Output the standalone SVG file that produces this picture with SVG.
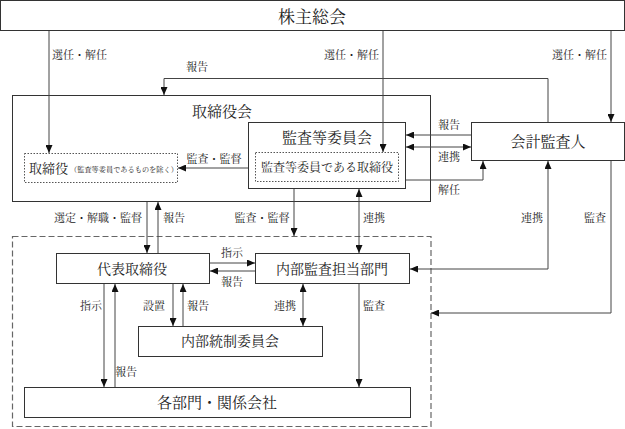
<svg xmlns="http://www.w3.org/2000/svg" width="625" height="429" viewBox="0 0 625 429">
<style>
text{font-family:"Noto Serif CJK JP","Noto Sans CJK JP",serif;fill:#222;}
.box{fill:#fff;stroke:#333;stroke-width:1;}
.dot{fill:none;stroke:#555;stroke-width:1;stroke-dasharray:1.5 1.5;}
.dash{fill:none;stroke:#666;stroke-width:1.2;stroke-dasharray:6 3;}
.c{fill:none;stroke:#444;stroke-width:1;}
.a{marker-end:url(#ah);}
.d{marker-start:url(#ah);marker-end:url(#ah);}
.lb{font-size:11px;}
.m{text-anchor:middle;}
</style>
<defs>
<marker id="ah" viewBox="0 0 8 7" refX="8" refY="3.5" markerWidth="8" markerHeight="7" markerUnits="userSpaceOnUse" orient="auto-start-reverse">
<path d="M0,0 L8,3.5 L0,7 z" fill="#111"/>
</marker>
</defs>

<g id="dashed-area"><rect class="dash" x="12.5" y="236.5" width="418.5" height="190"/></g>

<g id="shareholders">
<rect class="box" x="0.5" y="0.5" width="624" height="30"/>
<text x="312" y="23" class="m" font-size="17">株主総会</text>
</g>

<g id="board">
<rect class="box" x="12.5" y="95.5" width="418" height="106"/>
<text x="222" y="117" class="m" font-size="15">取締役会</text>
</g>

<g id="directors">
<rect class="dot" x="24.5" y="153.5" width="153" height="29"/>
<text x="29" y="173" font-size="13">取締役<tspan font-size="7.2" dx="2" dy="-1">（監査等委員であるものを除く）</tspan></text>
</g>

<g id="audit-committee">
<rect class="box" x="248.5" y="122.5" width="157" height="66"/>
<text x="327" y="143" class="m" font-size="15">監査等委員会</text>
</g>

<g id="audit-directors">
<rect class="dot" x="255.5" y="152.5" width="143" height="29"/>
<text x="327" y="172" class="m" font-size="12">監査等委員である取締役</text>
</g>

<g id="accounting-auditor">
<rect class="box" x="471.5" y="122.5" width="153" height="38"/>
<text x="548" y="147" class="m" font-size="15">会計監査人</text>
</g>

<g id="representative">
<rect class="box" x="56.5" y="253.5" width="153" height="30"/>
<text x="132" y="274" class="m" font-size="14">代表取締役</text>
</g>

<g id="internal-audit">
<rect class="box" x="255.5" y="253.5" width="154" height="30"/>
<text x="332" y="274" class="m" font-size="14">内部監査担当部門</text>
</g>

<g id="internal-control">
<rect class="box" x="138.5" y="326.5" width="184" height="30"/>
<text x="230" y="346" class="m" font-size="14">内部統制委員会</text>
</g>

<g id="departments">
<rect class="box" x="24.5" y="387.5" width="386" height="30"/>
<text x="217" y="408" class="m" font-size="15">各部門・関係会社</text>
</g>

<g id="connectors">
<path class="c a" d="M49,31 V153"/>
<path class="c a" d="M383,31 V152"/>
<path class="c a" d="M611,31 V122"/>
<path class="c a" d="M548,122 V78.5 H164 V95"/>
<path class="c a" d="M248,168 H178"/>
<path class="c a" d="M471,135 H406"/>
<path class="c d" d="M406,147 H471"/>
<path class="c a" d="M406,180 H483 V161"/>
<path class="c a" d="M147,202 V253"/>
<path class="c a" d="M158,253 V202"/>
<path class="c a" d="M294,189 V236"/>
<path class="c d" d="M359,189 V253"/>
<path class="c d" d="M410,269 H548 V161"/>
<path class="c a" d="M611,161 V313 H431"/>
<path class="c a" d="M210,263 H255"/>
<path class="c a" d="M255,271 H210"/>
<path class="c a" d="M104,284 V387"/>
<path class="c a" d="M115,387 V284"/>
<path class="c a" d="M173,284 V326"/>
<path class="c a" d="M183,326 V284"/>
<path class="c d" d="M303,284 V326"/>
<path class="c a" d="M359,284 V387"/>
</g>

<g id="labels" class="lb">
<text x="52" y="59" class="lb">選任・解任</text>
<text x="379" y="59" class="lb" text-anchor="end">選任・解任</text>
<text x="607" y="59" class="lb" text-anchor="end">選任・解任</text>
<text x="197" y="71" class="lb m">報告</text>
<text x="214" y="163" class="lb m">監査・監督</text>
<text x="449" y="129" class="lb m">報告</text>
<text x="449" y="161" class="lb m">連携</text>
<text x="449" y="194" class="lb m">解任</text>
<text x="98" y="222" class="lb m">選定・解職・監督</text>
<text x="174" y="222" class="lb m">報告</text>
<text x="262" y="222" class="lb m">監査・監督</text>
<text x="374" y="222" class="lb m">連携</text>
<text x="532" y="222" class="lb m">連携</text>
<text x="595" y="222" class="lb m">監査</text>
<text x="232" y="257" class="lb m">指示</text>
<text x="232" y="286" class="lb m">報告</text>
<text x="91" y="310" class="lb m">指示</text>
<text x="154" y="310" class="lb m">設置</text>
<text x="198" y="310" class="lb m">報告</text>
<text x="285" y="310" class="lb m">連携</text>
<text x="374" y="310" class="lb m">監査</text>
<text x="126" y="376" class="lb m">報告</text>
</g>
</svg>
